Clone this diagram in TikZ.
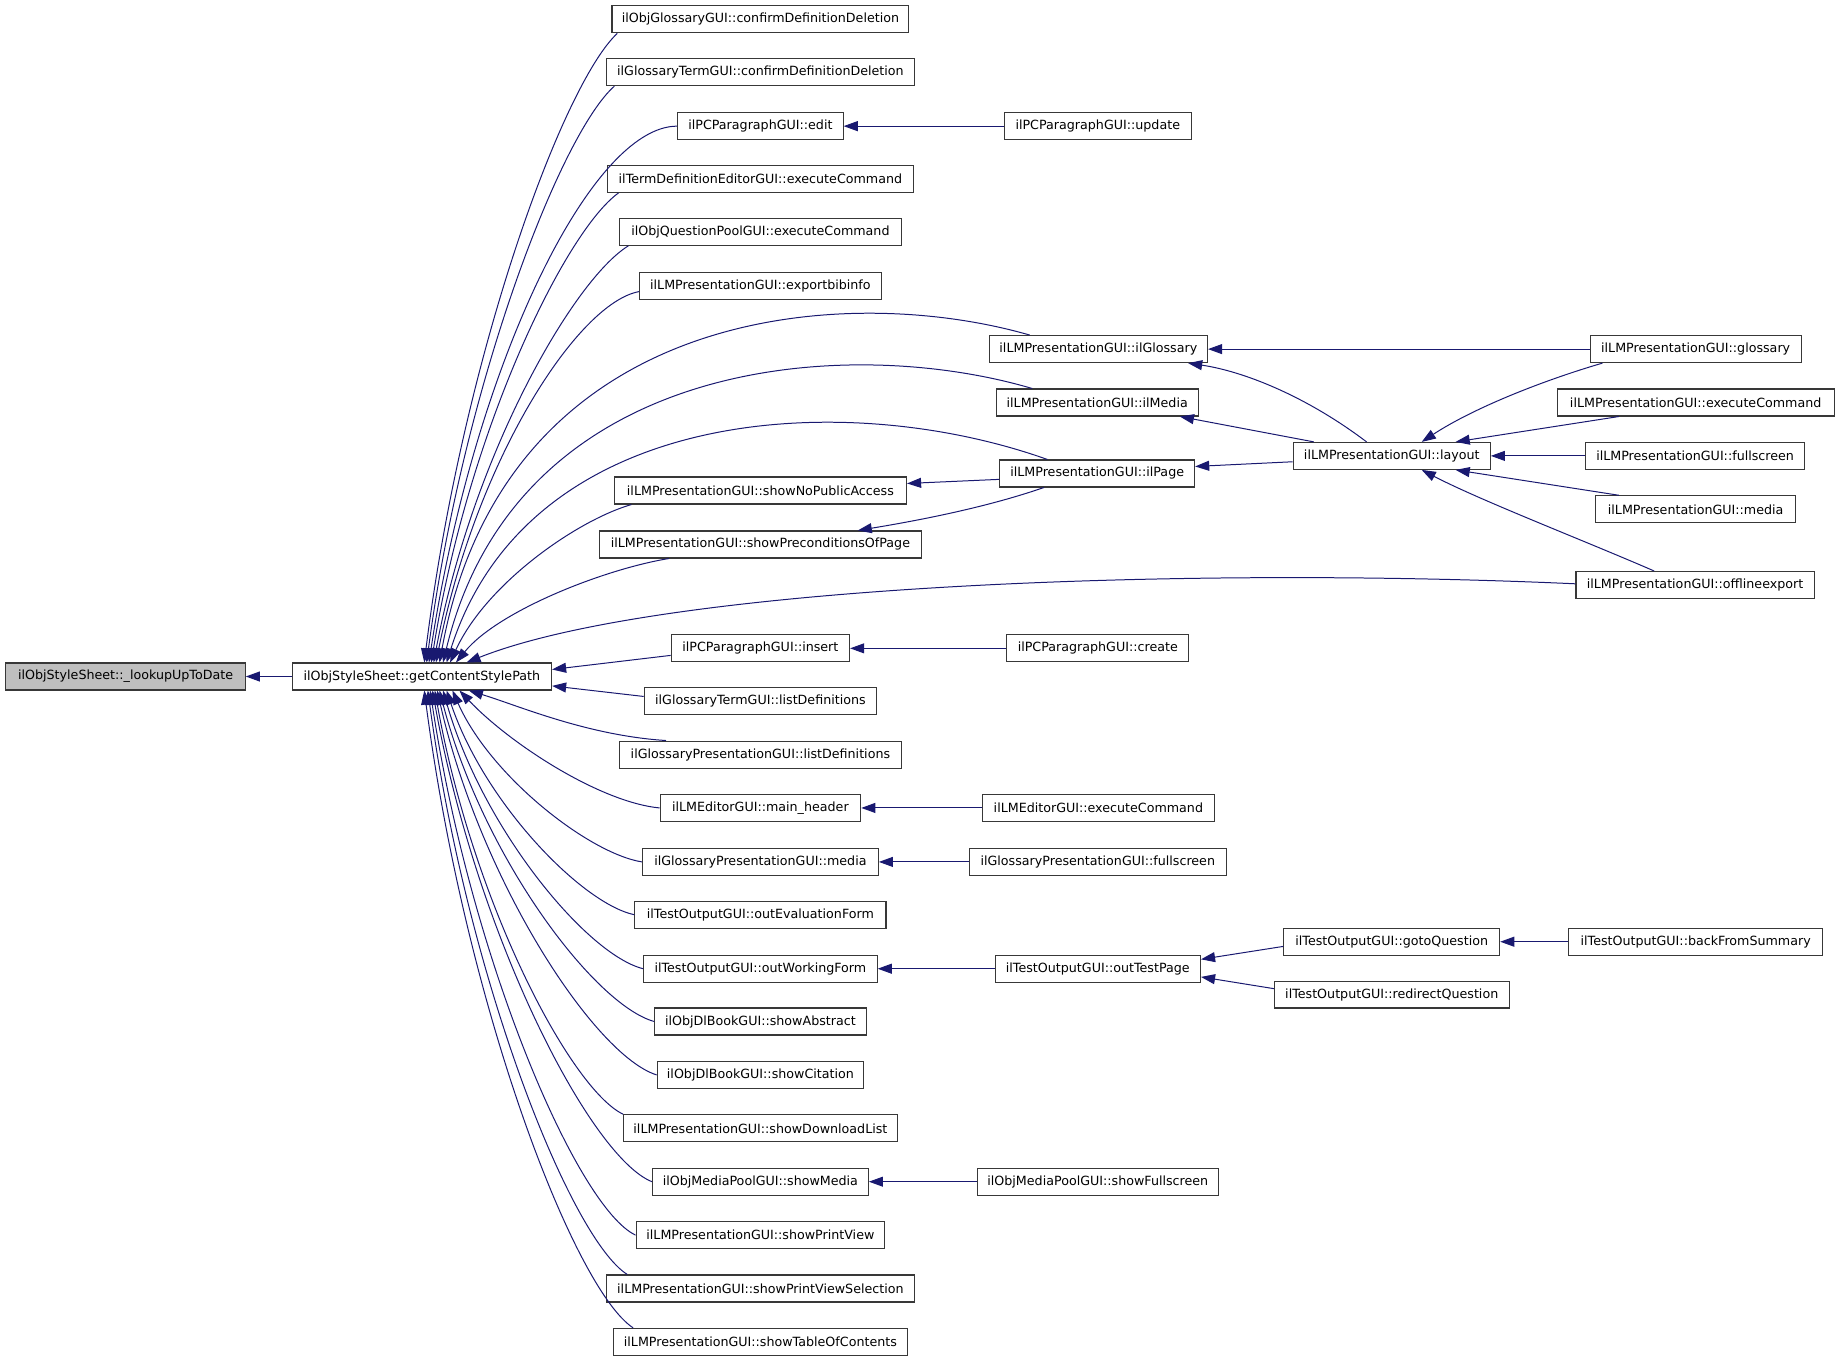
\documentclass[tikz,border=0pt]{standalone}
\usepackage{fontspec}
\setmainfont{DejaVu Sans}
\usetikzlibrary{arrows.meta,calc}
\definecolor{midnight}{HTML}{191970}
\tikzset{
  box/.style={draw=black!78, line width=0.9pt, fill=white, rectangle, inner sep=0pt,
    minimum height=23pt, font=\fontsize{10.8}{13}\selectfont, text=black},
  hl/.style={box, fill=black!25},
  edge/.style={draw=midnight, line width=0.85pt, -{Triangle[length=12pt,width=8.5pt]}}
}
\newcommand\cedge[6]{\draw[edge] let \p1=(#1), \p2=(#2) in (\p1) .. controls ({\x1+#3*(\x2-\x1)},{\y1+#4*(\y2-\y1)}) and ({\x1+#5*(\x2-\x1)},{\y1+#6*(\y2-\y1)}) .. (\p2);}
\begin{document}
\begin{tikzpicture}[x=1pt,y=-1pt]
\useasboundingbox (0,0) rectangle (1568,1161.5);
% column 0/1
\node[hl, minimum width=204pt] (lookup) at (107,576.5) {ilObjStyleSheet::\_lookupUpToDate};
\node[box, minimum width=221pt] (gcsp) at (359.5,576.5) {ilObjStyleSheet::getContentStylePath};
% column 2
\node[box, minimum width=253pt] (n1) at (648,16.5) {ilObjGlossaryGUI::confirmDefinitionDeletion};
\node[box, minimum width=262pt] (n2) at (648,61.5) {ilGlossaryTermGUI::confirmDefinitionDeletion};
\node[box, minimum width=141pt] (n3) at (648,107.5) {ilPCParagraphGUI::edit};
\node[box, minimum width=261pt] (n4) at (648,152.5) {ilTermDefinitionEditorGUI::executeCommand};
\node[box, minimum width=240pt] (n5) at (648,197.5) {ilObjQuestionPoolGUI::executeCommand};
\node[box, minimum width=206pt] (n6) at (648,243.5) {ilLMPresentationGUI::exportbibinfo};
\node[box, minimum width=249pt] (n7) at (648,418) {ilLMPresentationGUI::showNoPublicAccess};
\node[box, minimum width=275pt] (n8) at (648,464) {ilLMPresentationGUI::showPreconditionsOfPage};
\node[box, minimum width=152pt] (n9) at (648,552.5) {ilPCParagraphGUI::insert};
\node[box, minimum width=198pt] (n10) at (648,597.5) {ilGlossaryTermGUI::listDefinitions};
\node[box, minimum width=240pt] (n11) at (648,643) {ilGlossaryPresentationGUI::listDefinitions};
\node[box, minimum width=171pt] (n12) at (648,688.5) {ilLMEditorGUI::main\_header};
\node[box, minimum width=201pt] (n13) at (648,734.5) {ilGlossaryPresentationGUI::media};
\node[box, minimum width=214pt] (n14) at (648,779.5) {ilTestOutputGUI::outEvaluationForm};
\node[box, minimum width=199pt] (n15) at (648,825.5) {ilTestOutputGUI::outWorkingForm};
\node[box, minimum width=180pt] (n16) at (648,870.5) {ilObjDlBookGUI::showAbstract};
\node[box, minimum width=176pt] (n17) at (648,916) {ilObjDlBookGUI::showCitation};
\node[box, minimum width=233pt] (n18) at (648,961.5) {ilLMPresentationGUI::showDownloadList};
\node[box, minimum width=184pt] (n19) at (648,1007) {ilObjMediaPoolGUI::showMedia};
\node[box, minimum width=212pt] (n20) at (648,1052.5) {ilLMPresentationGUI::showPrintView};
\node[box, minimum width=262pt] (n21) at (648,1098) {ilLMPresentationGUI::showPrintViewSelection};
\node[box, minimum width=250pt] (n22) at (648,1143.5) {ilLMPresentationGUI::showTableOfContents};
% column 3
\node[box, minimum width=159pt] (update) at (935.5,107.5) {ilPCParagraphGUI::update};
\node[box, minimum width=186pt] (ilglo) at (936,297.5) {ilLMPresentationGUI::ilGlossary};
\node[box, minimum width=172pt] (ilmed) at (935,343) {ilLMPresentationGUI::ilMedia};
\node[box, minimum width=166pt] (ilpage) at (935,403.5) {ilLMPresentationGUI::ilPage};
\node[box, minimum width=155pt] (create) at (935.5,552.5) {ilPCParagraphGUI::create};
\node[box, minimum width=198pt] (lmeexec) at (936,688.5) {ilLMEditorGUI::executeCommand};
\node[box, minimum width=219pt] (gpfull) at (935.5,734.5) {ilGlossaryPresentationGUI::fullscreen};
\node[box, minimum width=175pt] (otp) at (935.5,825.5) {ilTestOutputGUI::outTestPage};
\node[box, minimum width=205pt] (mpfull) at (935.5,1007) {ilObjMediaPoolGUI::showFullscreen};
% column 4
\node[box, minimum width=168pt] (layout) at (1186,388.5) {ilLMPresentationGUI::layout};
\node[box, minimum width=184pt] (goto) at (1186,802.5) {ilTestOutputGUI::gotoQuestion};
\node[box, minimum width=200pt] (redir) at (1186,847.5) {ilTestOutputGUI::redirectQuestion};
% column 5
\node[box, minimum width=180pt] (glossary) at (1445,297.5) {ilLMPresentationGUI::glossary};
\node[box, minimum width=236pt] (lmexec) at (1445,343) {ilLMPresentationGUI::executeCommand};
\node[box, minimum width=187pt] (full) at (1444.5,388.5) {ilLMPresentationGUI::fullscreen};
\node[box, minimum width=170pt] (media) at (1445,434) {ilLMPresentationGUI::media};
\node[box, minimum width=203pt] (offline) at (1444.5,498.5) {ilLMPresentationGUI::offlineexport};
\node[box, minimum width=216pt] (back) at (1445,802.5) {ilTestOutputGUI::backFromSummary};

% straight edges
\draw[edge] (gcsp.west) -- (lookup.east);
\draw[edge] (update.west) -- (n3.east);
\draw[edge] (glossary.west) -- (ilglo.east);
\draw[edge] ($(layout.north west)+(18,0)$) -- ($(ilmed.south east)+(-16,0)$);
\draw[edge] ($(layout.west)+(0,5)$) -- ($(ilpage.east)+(0,-6)$);
\draw[edge] ($(ilpage.west)+(0,5)$) -- ($(n7.east)+(0,-6)$);
\draw[edge] ($(lmexec.south west)+(53,0)$) -- ($(layout.north east)+(-30,0)$);
\draw[edge] (full.west) -- (layout.east);
\draw[edge] ($(media.north west)+(20,0)$) -- ($(layout.south east)+(-30,0)$);
\draw[edge] (create.west) -- (n9.east);
\draw[edge] ($(n9.west)+(0,6)$) -- ($(gcsp.east)+(0,-6)$);
\draw[edge] ($(n10.west)+(0,-4)$) -- ($(gcsp.east)+(0,8)$);
\draw[edge] (lmeexec.west) -- (n12.east);
\draw[edge] (gpfull.west) -- (n13.east);
\draw[edge] (otp.west) -- (n15.east);
\draw[edge] ($(goto.west)+(0,4)$) -- ($(otp.east)+(0,-8)$);
\draw[edge] ($(redir.west)+(0,-5)$) -- ($(otp.east)+(0,7)$);
\draw[edge] (back.west) -- (goto.east);
\draw[edge] (mpfull.west) -- (n19.east);

% curved edges on the right
\cedge{$(layout.north west)+(63,0)$}{$(ilglo.south east)+(-17,0)$}{0.35}{0.6}{0.7}{0.9}
\cedge{$(ilpage.south west)+(38,0)$}{$(n8.north east)+(-55,0)$}{0.3}{0.45}{0.65}{0.75}
\cedge{$(glossary.south west)+(11,0)$}{$(layout.north west)+(110,0)$}{0.3}{0.2}{0.7}{0.55}
\cedge{$(offline.north west)+(67,0)$}{$(layout.south west)+(110,0)$}{0.3}{0.3}{0.75}{0.7}

% long curves from getContentStylePath
\draw[edge] ($(ilglo.north west)+(35,0)$) .. controls (720,240) and (430,260) .. ($(gcsp.north west)+(126,0)$);
\draw[edge] ($(ilmed.north west)+(31,0)$) .. controls (720,284) and (440,305) .. ($(gcsp.north west)+(129,0)$);
\draw[edge] ($(ilpage.north west)+(41,0)$) .. controls (720,330) and (450,345) .. ($(gcsp.north west)+(132,0)$);
\draw[edge] ($(offline.west)+(0,-1)$) .. controls (1000,482) and (560,500) .. ($(gcsp.north west)+(149,0)$);

% upper column-2 edges
\cedge{$(n1.south west)+(5,0)$}{$(gcsp.north west)+(113,0)$}{0.28}{0.08}{0.8}{0.51}
\cedge{$(n2.south west)+(7,0)$}{$(gcsp.north west)+(115,0)$}{0.28}{0.08}{0.8}{0.51}
\cedge{$(n3.west)+(0,0)$}{$(gcsp.north west)+(117,0)$}{0.35}{0.0}{0.82}{0.45}
\cedge{$(n4.south west)+(10,0)$}{$(gcsp.north west)+(119,0)$}{0.28}{0.08}{0.8}{0.5}
\cedge{$(n5.south west)+(8,0)$}{$(gcsp.north west)+(121,0)$}{0.28}{0.08}{0.8}{0.5}
\cedge{$(n6.west)+(0,5)$}{$(gcsp.north west)+(123,0)$}{0.3}{0.03}{0.8}{0.45}
\cedge{$(n7.south west)+(15,0)$}{$(gcsp.north west)+(135,0)$}{0.3}{0.1}{0.8}{0.5}
\cedge{$(n8.south west)+(60,0)$}{$(gcsp.north west)+(140,0)$}{0.3}{0.1}{0.8}{0.5}

% lower column-2 edges
\cedge{$(n11.north west)+(40,0)$}{$(gcsp.south west)+(151,0)$}{0.4}{0.1}{0.75}{0.7}
\cedge{$(n12.west)$}{$(gcsp.south west)+(143,0)$}{0.3}{0.05}{0.75}{0.55}
\cedge{$(n13.west)$}{$(gcsp.south west)+(137,0)$}{0.28}{0.05}{0.8}{0.5}
\cedge{$(n14.west)$}{$(gcsp.south west)+(132,0)$}{0.28}{0.05}{0.8}{0.5}
\cedge{$(n15.west)$}{$(gcsp.south west)+(129,0)$}{0.28}{0.05}{0.8}{0.5}
\cedge{$(n16.west)$}{$(gcsp.south west)+(126,0)$}{0.28}{0.05}{0.8}{0.5}
\cedge{$(n17.west)$}{$(gcsp.south west)+(124,0)$}{0.28}{0.05}{0.8}{0.5}
\cedge{$(n18.north west)$}{$(gcsp.south west)+(122,0)$}{0.28}{0.06}{0.8}{0.5}
\cedge{$(n19.west)$}{$(gcsp.south west)+(120,0)$}{0.28}{0.05}{0.8}{0.5}
\cedge{$(n20.west)$}{$(gcsp.south west)+(118,0)$}{0.28}{0.05}{0.8}{0.5}
\cedge{$(n21.north west)+(18,0)$}{$(gcsp.south west)+(116,0)$}{0.28}{0.06}{0.8}{0.5}
\cedge{$(n22.north west)+(17,0)$}{$(gcsp.south west)+(113,0)$}{0.28}{0.06}{0.8}{0.5}
\end{tikzpicture}
\end{document}
